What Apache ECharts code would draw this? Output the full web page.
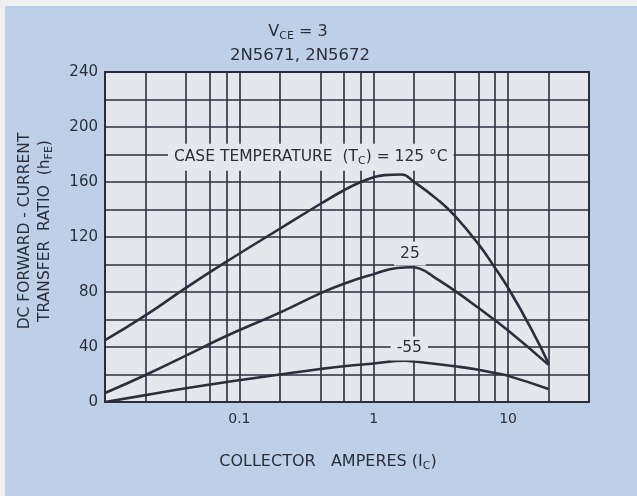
<!DOCTYPE html>
<html>
<head>
<meta charset="utf-8">
<script src="https://cdn.jsdelivr.net/npm/echarts@6/dist/echarts.min.js"></script>
<style>
  html, body { margin: 0; padding: 0; background: #bdd0e8; }
  #chart { width: 637px; height: 496px; }
</style>
</head>
<body>
<div id="chart"></div>
<script>
// hFE vs collector current, 2N5671 / 2N5672, VCE = 3 V
const temp125 = [[0.01, 45], [0.02, 63], [0.04, 83], [0.08, 102], [0.2, 126], [0.4, 144], [0.6, 154], [0.8, 160], [1, 163.5], [1.2, 165], [1.6, 165.5], [2, 160], [3, 147], [4, 135.5], [6, 115], [8, 97.5], [10, 83], [15, 52.5], [20, 28]];
const temp25 = [[0.01, 6.5], [0.02, 19.6], [0.04, 33.7], [0.08, 48], [0.2, 65], [0.4, 79], [0.6, 86], [1, 93], [1.5, 97.5], [1.9, 98], [2.2, 97], [3, 89], [4, 81], [6, 68.5], [10, 52], [20, 27]];
const tempMinus55 = [[0.01, 0], [0.02, 5], [0.04, 10], [0.08, 14.5], [0.2, 20], [0.4, 24], [0.6, 26], [1, 28], [1.7, 30], [2, 29.5], [4, 26], [6, 23.5], [8, 21], [10, 19], [20, 9.5]];

// vertical rulings of the log paper
const xGridLines = [0.02, 0.04, 0.06, 0.08, 0.1, 0.2, 0.4, 0.6, 0.8, 1, 2, 4, 6, 8, 10, 20];
const xTickLabels = { '-1': '0.1', '0': '1', '1': '10' };

// curve captions and where they sit
const curveLabelText = ['CASE TEMPERATURE  (T{s|C}) = 125 °C', '25', '-55'];
const curveLabelPos = [[0.34, 178], [1.86, 108], [1.84, 39]];

const INK = '#2b2f3c';
const PAPER = '#e6e7ec';
const FONT = 'DejaVu Sans';

const chart = echarts.init(document.getElementById('chart'), null, { renderer: 'canvas' });

const curveStyle = { color: INK, width: 2.6 };
const subStyle = (size, pad) => ({ fontSize: size, fontFamily: FONT, fill: INK, color: INK, verticalAlign: 'bottom', padding: [pad, 0, 0, 0] });

chart.setOption({
  backgroundColor: '#bdd0e8',
  animation: false,
  textStyle: { fontFamily: FONT, color: INK },
  grid: {
    show: true, left: 105, right: 48, top: 72, bottom: 94,
    backgroundColor: PAPER, borderColor: INK, borderWidth: 2
  },
  xAxis: {
    type: 'log', logBase: 10, min: 0.01, max: 40,
    axisLine: { show: false }, axisTick: { show: false },
    splitLine: { show: false },
    axisLabel: {
      margin: 10, fontSize: 14, color: INK, fontFamily: FONT,
      showMinLabel: true, showMaxLabel: true,
      formatter: function (v) {
        const l = Math.log10(v), r = Math.round(l);
        if (Math.abs(l - r) < 1e-6 && xTickLabels[r] !== undefined) return xTickLabels[r];
        return '';
      }
    }
  },
  yAxis: {
    type: 'value', min: 0, max: 240, interval: 20,
    axisLine: { show: false }, axisTick: { show: false },
    splitLine: { show: true, lineStyle: { color: INK, width: 1.6 } },
    axisLabel: {
      margin: 7, fontSize: 15, color: INK, fontFamily: FONT,
      formatter: function (v) { return v % 40 === 0 ? String(v) : ''; }
    }
  },
  graphic: [
    { type: 'rect', shape: { x: 0, y: 0, width: 637, height: 6 }, style: { fill: '#eef0ef' }, silent: true },
    { type: 'rect', shape: { x: 0, y: 0, width: 5, height: 496 }, style: { fill: '#eef0ef' }, silent: true },
    {
      type: 'text', x: 298, y: 32,
      style: {
        text: 'V{s|CE} = 3', fill: INK, font: '16px "DejaVu Sans"', align: 'center', verticalAlign: 'middle',
        rich: { s: subStyle(11, 8) }
      }
    },
    {
      type: 'text', x: 300, y: 56,
      style: { text: '2N5671, 2N5672', fill: INK, font: '16.5px "DejaVu Sans"', align: 'center', verticalAlign: 'middle' }
    },
    {
      type: 'text', x: 328, y: 462,
      style: {
        text: 'COLLECTOR   AMPERES (I{s|C})', fill: INK, font: '16px "DejaVu Sans"', align: 'center', verticalAlign: 'middle',
        rich: { s: subStyle(11, 8) }
      }
    },
    {
      type: 'text', x: 25, y: 231, rotation: Math.PI / 2,
      style: { text: 'DC FORWARD - CURRENT', fill: INK, font: '15.5px "DejaVu Sans"', align: 'center', verticalAlign: 'middle' }
    },
    {
      type: 'text', x: 45, y: 231, rotation: Math.PI / 2,
      style: {
        text: 'TRANSFER  RATIO  (h{s|FE})', fill: INK, font: '15.5px "DejaVu Sans"', align: 'center', verticalAlign: 'middle',
        rich: { s: subStyle(11, 8) }
      }
    }
  ],
  series: [
    {
      type: 'line', data: [], z: 1, silent: true,
      markLine: {
        silent: true, symbol: ['none', 'none'], label: { show: false },
        lineStyle: { color: INK, width: 1.6, type: 'solid' },
        emphasis: { disabled: true },
        data: xGridLines.map(v => ({ xAxis: v }))
      }
    },
    { name: '125', type: 'line', data: temp125, smooth: 0.5, showSymbol: false, lineStyle: curveStyle, z: 3 },
    { name: '25', type: 'line', data: temp25, smooth: 0.5, showSymbol: false, lineStyle: curveStyle, z: 3 },
    { name: '-55', type: 'line', data: tempMinus55, smooth: 0.5, showSymbol: false, lineStyle: curveStyle, z: 3 },
    {
      type: 'scatter', z: 5, symbolSize: 0, silent: true,
      itemStyle: { opacity: 1 },
      data: curveLabelPos.map((p, i) => ({ value: p, name: curveLabelText[i] })),
      label: {
        show: true, position: 'inside', formatter: '{b}',
        fontSize: 15.5, fontFamily: FONT, color: INK, opacity: 1,
        textBorderWidth: 0,
        backgroundColor: PAPER, padding: [4, 6],
        rich: { s: subStyle(11, 8) }
      }
    }
  ]
});
</script>
</body>
</html>
